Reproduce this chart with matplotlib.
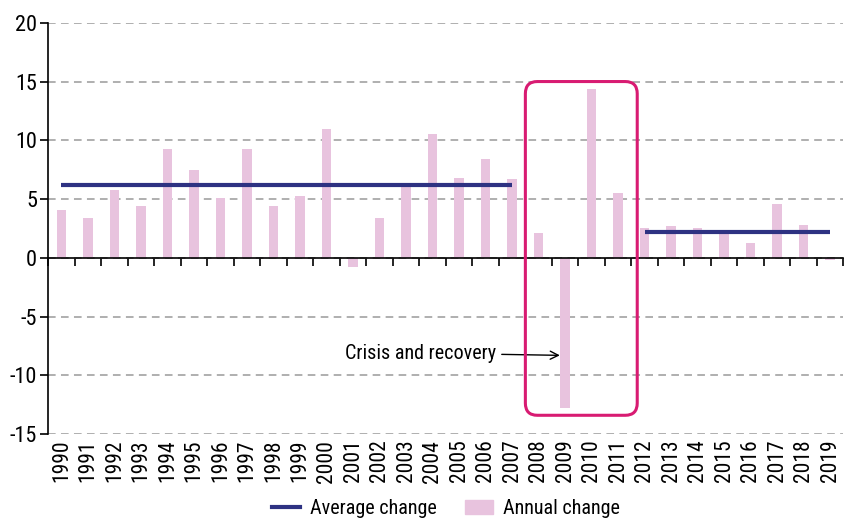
import matplotlib
matplotlib.use('Agg')
import matplotlib.pyplot as plt
from matplotlib import font_manager
from matplotlib.patches import FancyBboxPatch, Patch
from matplotlib.lines import Line2D
import numpy as np

years = list(range(1990, 2020))
annual_change = [4.1, 3.4, 5.8, 4.4, 9.3, 7.5, 5.1, 9.3, 4.4, 5.3,
                 11.0, -0.8, 3.4, 6.1, 10.5, 6.8, 8.4, 6.7, 2.1, -12.8,
                 14.4, 5.5, 2.5, 2.7, 2.5, 2.2, 1.3, 4.6, 2.8, -0.2]
# average change per period (first year, last year, value)
avg_periods = [(1990, 2007, 6.2), (2012, 2019, 2.2)]
crisis_years = (2008, 2011)

bar_color = '#e8c3de'
line_color = '#2e3282'
box_color = '#d81b72'

# pick a narrow font if one is around
installed = {f.name for f in font_manager.fontManager.ttflist}
narrow = [f for f in ['Roboto Condensed', 'Liberation Sans Narrow', 'DejaVu Sans Condensed',
                      'Open Sans Condensed', 'Arial Narrow', 'Roboto'] if f in installed]
plt.rcParams['font.family'] = narrow[:1] + ['DejaVu Sans']
plt.rcParams['axes.unicode_minus'] = False

fig, ax = plt.subplots(figsize=(8.46, 5.18), dpi=100)
fig.subplots_adjust(left=0.057, right=0.997, top=0.956, bottom=0.162)

x = np.arange(len(years))
ax.bar(x, annual_change, width=0.36, color=bar_color, zorder=2)

for y0, y1, v in avg_periods:
    ax.hlines(v, years.index(y0), years.index(y1), color=line_color, lw=3, zorder=3)

ax.set_xlim(-0.5, len(years) - 0.5)
ax.set_ylim(-15, 20)
ax.set_yticks(np.arange(-15, 21, 5))
ax.tick_params(axis='y', labelsize=16, length=6, width=1.2, pad=2)
ax.yaxis.grid(True, linestyle=(0, (5, 3.5)), color='#9a9a9a', lw=1.1, zorder=0)

for s in ['top', 'right']:
    ax.spines[s].set_visible(False)
ax.spines['left'].set_linewidth(1.2)
ax.spines['bottom'].set_position(('data', 0))
ax.spines['bottom'].set_linewidth(1.2)
ax.spines['bottom'].set_zorder(4)
ax.set_xticks(np.arange(len(years) + 1) - 0.5)
ax.tick_params(axis='x', direction='out', length=6, width=1.2, labelbottom=False)

sec = ax.secondary_xaxis('bottom')
sec.set_xticks(x)
sec.set_xticklabels([str(y) for y in years], rotation=90)
sec.tick_params(length=0, labelsize=15.5, pad=4)
sec.spines['bottom'].set_visible(False)

# crisis highlight box
i0 = years.index(crisis_years[0])
i1 = years.index(crisis_years[1])
bx0, bx1 = i0 - 0.5, i1 + 0.72
by0, by1 = -13.4, 15.0
box = FancyBboxPatch((bx0, by0), bx1 - bx0, by1 - by0,
                     boxstyle='round,pad=0,rounding_size=0.45',
                     mutation_aspect=2.3, fill=False, ec=box_color, lw=2.2, zorder=5)
ax.add_patch(box)

ax.annotate('Crisis and recovery', xy=(years.index(2009) - 0.2, -8.3),
            xytext=(years.index(2006) + 0.4, -8.1), fontsize=14.5,
            ha='right', va='center',
            arrowprops=dict(arrowstyle='->', color='black', lw=1.0,
                            shrinkA=2, shrinkB=0))

handles = [Line2D([0], [0], color=line_color, lw=3),
           Patch(color=bar_color)]
fig.legend(handles, ['Average change', 'Annual change'], loc='center',
           bbox_to_anchor=(0.527, 0.018), ncol=2, frameon=False, fontsize=14.5,
           handlelength=1.4, columnspacing=1.4, handletextpad=0.5)

plt.savefig('out.png', dpi=100)
